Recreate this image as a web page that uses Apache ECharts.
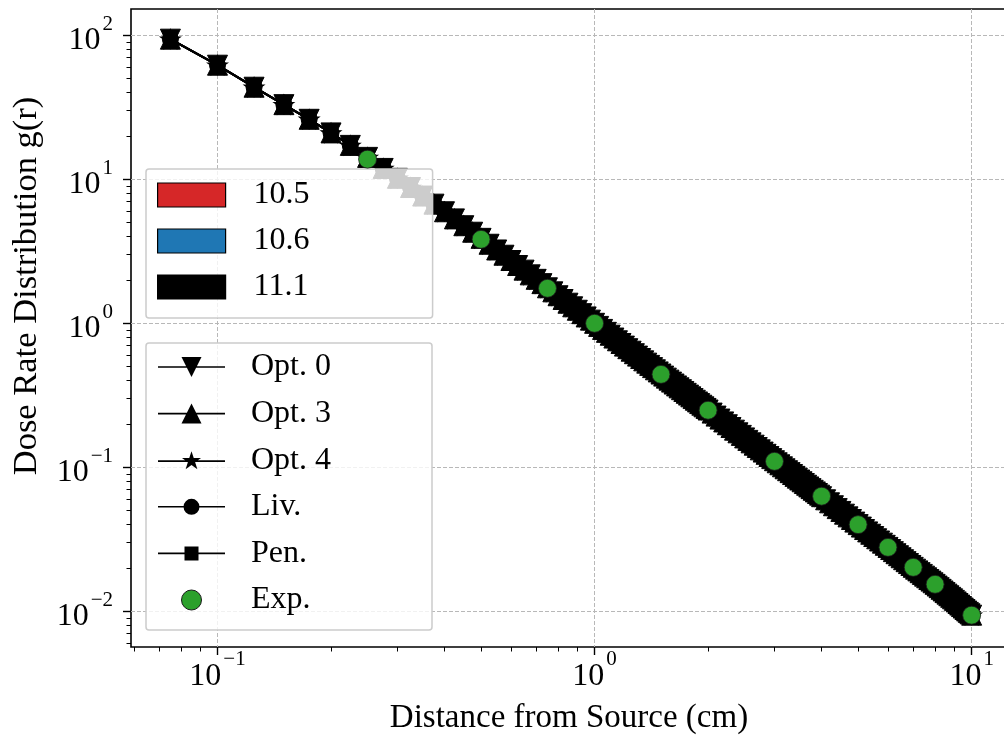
<!DOCTYPE html>
<html><head><meta charset="utf-8">
<script src="https://cdn.jsdelivr.net/npm/echarts@6/dist/echarts.min.js"></script>
<style>html,body{margin:0;padding:0;background:#fff}#c{width:1004px;height:738px}</style>
</head><body><div id="c"></div>
<script>
// ---------------- data ----------------
const distance = [0.075,0.1,0.125,0.15,0.175,0.2,0.225,0.25,0.275,0.3,0.325,0.35,0.375,0.4,0.425,0.45,0.475,0.5,0.525,0.55,0.575,0.6,0.625,0.65,0.675,0.7,0.725,0.75,0.775,0.8,0.825,0.85,0.875,0.9,0.925,0.95,0.975,1.0,
  1.025,1.05,1.075,1.1,1.125,1.15,1.175,1.2,1.225,1.25,1.275,1.3,1.325,1.35,1.375,1.4,1.425,1.45,1.475,1.5,1.525,1.55,1.575,1.6,1.625,1.65,1.675,1.7,1.725,1.75,1.775,1.8,1.825,1.85,1.875,1.9,1.925,1.95,1.975,2.0,
  2.05,2.1,2.15,2.2,2.25,2.3,2.35,2.4,2.45,2.5,2.55,2.6,2.65,2.7,2.75,2.8,2.85,2.9,2.95,3.0,3.05,3.1,3.15,3.2,3.25,3.3,3.35,3.4,3.45,3.5,3.55,3.6,3.65,3.7,3.75,3.8,3.85,3.9,3.95,4.0,
  4.1,4.2,4.3,4.4,4.5,4.6,4.7,4.8,4.9,5.0,5.1,5.2,5.3,5.4,5.5,5.6,5.7,5.8,5.9,6.0,6.1,6.2,6.3,6.4,6.5,6.6,6.7,6.8,6.9,7.0,
  7.1,7.2,7.3,7.4,7.5,7.6,7.7,7.8,7.9,8.0,8.1,8.2,8.3,8.4,8.5,8.6,8.7,8.8,8.9,9.0,9.1,9.2,9.3,9.4,9.5,9.6,9.7,9.8,9.9,10.0];
const gSim = [94,62,43.6,33.0,26.1,21.0,17.2,14.2,11.9,10.16,8.77,7.65,6.72,5.95,5.31,4.76,4.29,3.89,3.54,3.23,2.97,2.73,2.52,2.34,2.17,2.02,1.886,1.764,1.654,1.554,1.463,1.379,1.302,1.232,1.167,1.107,1.052,1.0,
  0.9518,0.9070,0.8653,0.8264,0.7901,0.7561,0.7243,0.6944,0.6664,0.6400,0.6151,0.5917,0.5696,0.5487,0.5289,0.5102,0.4925,0.4756,0.4596,0.4444,0.4300,0.4162,0.4031,0.3906,0.3787,0.3673,0.3564,0.3460,0.3361,0.3265,0.3174,0.3086,0.3002,0.2922,0.2844,0.2770,0.2699,0.2630,0.2564,0.2500,
  0.2380,0.2268,0.2163,0.2066,0.1975,0.1890,0.1811,0.1736,0.1666,0.1600,0.1538,0.1479,0.1424,0.1372,0.1322,0.1276,0.1231,0.1189,0.1149,0.1111,0.1075,0.1041,0.1008,0.09766,0.09467,0.09183,0.08911,0.08651,0.08402,0.08163,0.07935,0.07716,0.07506,0.07305,0.07111,0.06925,0.06747,0.06575,0.06409,0.0625,
  0.05949,0.05669,0.05408,0.05165,0.04938,0.04726,0.04527,0.04340,0.04165,0.04000,0.03845,0.03698,0.03560,0.03429,0.03306,0.03189,0.03078,0.02973,0.02873,0.02778,0.02685,0.02596,0.02512,0.02432,0.02355,0.02282,0.02212,0.02146,0.02081,0.02020,
  0.01962,0.01908,0.01854,0.01804,0.01755,0.01709,0.01663,0.01621,0.01578,0.01539,0.01498,0.01459,0.01421,0.01384,0.01349,0.01316,0.01283,0.01251,0.01221,0.01191,0.01162,0.01133,0.01105,0.01079,0.01053,0.01029,0.01005,0.00983,0.00961,0.0094];
const expDistance = [0.25,0.5,0.75,1,1.5,2,3,4,5,6,7,8,10];
const expG = [13.8,3.83,1.75,1.0,0.442,0.249,0.110,0.063,0.040,0.0278,0.0202,0.0154,0.0094];
const versions = ['10.5','10.6','11.1'];
const models = ['Opt. 0','Opt. 3','Opt. 4','Liv.','Pen.'];
const expName = 'Exp.';
const xMajorTicks = [0.1,1,10];
const xMinorTicks = [0.06,0.07,0.08,0.09,0.2,0.3,0.4,0.5,0.6,0.7,0.8,0.9,2,3,4,5,6,7,8,9];
const yMajorTicks = [0.01,0.1,1,10,100];
const yMinorTicks = [0.006,0.007,0.008,0.009,0.02,0.03,0.04,0.05,0.06,0.07,0.08,0.09,0.2,0.3,0.4,0.5,0.6,0.7,0.8,0.9,2,3,4,5,6,7,8,9,20,30,40,50,60,70,80,90];
const xTitle = 'Distance from Source (cm)';
const yTitle = 'Dose Rate Distribution g(r)';

// ---------------- styles ----------------
const FONT = '"Liberation Serif","Times New Roman",serif';
const versionColors = ['#d62728','#1f77b4','#000000'];
const STAR = 'path://M100,0L122.45,69.1L195.11,69.1L136.33,111.8L158.78,180.9L100,138.2L41.22,180.9L63.67,111.8L4.89,69.1L77.55,69.1Z';
const markerStyle = {
  'Opt. 0': {symbol:'triangle', size:20, rotate:180},
  'Opt. 3': {symbol:'triangle', size:20, rotate:0},
  'Opt. 4': {symbol:STAR, size:[20,19], rotate:0},
  'Liv.':   {symbol:'circle', size:16, rotate:0},
  'Pen.':   {symbol:'rect', size:14, rotate:0}
};
const legendIcons = {
  'Opt. 0': 'path://M0,9.2H67V10.8H0Z M23.5,0H43.5L33.5,20Z',
  'Opt. 3': 'path://M0,9.2H67V10.8H0Z M33.5,0L43.5,20H23.5Z',
  'Opt. 4': 'path://M0,9.2H67V10.8H0Z M33.5,0L35.745,6.91L43.011,6.91L37.133,11.18L39.378,18.09L33.5,13.82L27.622,18.09L29.867,11.18L23.989,6.91L31.255,6.91Z',
  'Liv.':   'path://M0,7.2H67V8.8H0Z M25.5,8A8,8 0 1,1 41.5,8A8,8 0 1,1 25.5,8Z',
  'Pen.':   'path://M0,6.2H67V7.8H0Z M26.5,0H40.5V14H26.5Z'
};
const X_MIN = 0.05896, X_MAX = 12.41, Y_MIN = 0.005651, Y_MAX = 152.3;

function powLabel(v) {
  const e = Math.round(Math.log10(v));
  const s = e < 0 ? '\u2212' + (-e) : String(e);
  return '{b|10}{s|' + s + '}';
}
const labelRich = {
  b: {fontFamily: FONT, fontSize: 32, lineHeight: 32, color: '#000', padding: [10.4, 0, 0, 0]},
  s: {fontFamily: FONT, fontSize: 21, lineHeight: 21, color: '#000', padding: [0, 0, 22.2, 2]}
};
const gridLine = {show: true, lineStyle: {color: '#b8b8b8', width: 1, type: [4, 2]}};

const series = [];
versions.forEach((v, i) => {
  series.push({name: v, type: 'line', data: [], itemStyle: {color: versionColors[i]}, lineStyle: {color: versionColors[i]}});
});
const simData = distance.map((r, i) => [r, gSim[i]]);
models.forEach((m) => {
  const ms = markerStyle[m];
  series.push({
    name: m, type: 'line', data: simData,
    symbol: ms.symbol, symbolSize: ms.size, symbolRotate: ms.rotate, showSymbol: true, showAllSymbol: true,
    lineStyle: {color: '#000', width: 2},
    itemStyle: {color: '#000', borderColor: '#000', borderWidth: 1},
    emphasis: {disabled: true}, silent: true, animation: false
  });
});
series.push({
  name: expName, type: 'scatter', data: expDistance.map((r, i) => [r, expG[i]]),
  symbol: 'circle', symbolSize: 18,
  itemStyle: {color: '#2ca02c', borderColor: '#1a1a1a', borderWidth: 0.8, opacity: 1},
  emphasis: {disabled: true}, silent: true, z: 5
});

const legendText = (pad) => ({rich: {t: {fontFamily: FONT, fontSize: 32, lineHeight: 32, color: '#000', padding: [0, 0, 0, pad]}}});

const option = {
  animation: false,
  backgroundColor: '#fff',
  grid: {left: 131, right: -3, top: 9, bottom: 91, show: true, borderColor: '#000', borderWidth: 1.6,
         backgroundColor: 'transparent', containLabel: false, outerBoundsMode: 'none'},
  xAxis: [
    {type: 'log', min: X_MIN, max: X_MAX, position: 'bottom',
     axisLine: {show: false},
     axisTick: {show: true, customValues: xMajorTicks, length: 8, lineStyle: {color: '#000', width: 1.4}},
     axisLabel: {show: true, customValues: xMajorTicks, formatter: powLabel, rich: labelRich, margin: 8},
     splitLine: gridLine, minorTick: {show: false}},
    {type: 'log', min: X_MIN, max: X_MAX, position: 'bottom', gridIndex: 0,
     axisLine: {show: false}, axisLabel: {show: false}, splitLine: {show: false},
     axisTick: {show: true, customValues: xMinorTicks, length: 4.5, lineStyle: {color: '#000', width: 1}}}
  ],
  yAxis: [
    {type: 'log', min: Y_MIN, max: Y_MAX, position: 'left',
     axisLine: {show: false},
     axisTick: {show: true, customValues: yMajorTicks, length: 8, lineStyle: {color: '#000', width: 1.4}},
     axisLabel: {show: true, customValues: yMajorTicks, formatter: powLabel, rich: labelRich, margin: 18},
     splitLine: gridLine},
    {type: 'log', min: Y_MIN, max: Y_MAX, position: 'left', gridIndex: 0,
     axisLine: {show: false}, axisLabel: {show: false}, splitLine: {show: false},
     axisTick: {show: true, customValues: yMinorTicks, length: 4.5, lineStyle: {color: '#000', width: 1}}}
  ],
  legend: [
    {orient: 'vertical', left: 146, top: 169, itemWidth: 68, itemHeight: 24, itemGap: 14,
     padding: [10, 123, 15, 11], backgroundColor: 'rgba(255,255,255,0.8)', borderColor: '#cccccc', borderWidth: 1.5, borderRadius: 3,
     selectedMode: false, formatter: '{t|{name}}', textStyle: legendText(23),
     data: versions.map((v, i) => ({name: v, icon: 'rect', itemStyle: {color: versionColors[i], borderColor: '#000', borderWidth: 1.2}}))},
    {orient: 'vertical', left: 146, top: 343, itemWidth: 67, itemHeight: 20, itemGap: 14.6,
     padding: [8, 101, 14, 12], backgroundColor: 'rgba(255,255,255,0.8)', borderColor: '#cccccc', borderWidth: 1.5, borderRadius: 3,
     selectedMode: false, formatter: '{t|{name}}', textStyle: legendText(21),
     data: models.map((m) => ({name: m, icon: legendIcons[m], itemStyle: {color: '#000', borderWidth: 0}}))
       .concat([{name: expName, icon: 'circle', itemStyle: {color: '#2ca02c', borderColor: '#1a1a1a', borderWidth: 1}}])}
  ],
  graphic: [
    {type: 'text', x: 569, y: 718.2, silent: true,
     style: {text: xTitle, font: '33px ' + FONT, fill: '#000', align: 'center', verticalAlign: 'middle'}},
    {type: 'text', x: 26.5, y: 286, rotation: Math.PI / 2, silent: true,
     style: {text: yTitle, font: '34.5px ' + FONT, fill: '#000', align: 'center', verticalAlign: 'middle'}}
  ],
  series: series
};
const chart = echarts.init(document.getElementById('c'), null, {renderer: 'canvas'});
chart.setOption(option);
</script></body></html>
